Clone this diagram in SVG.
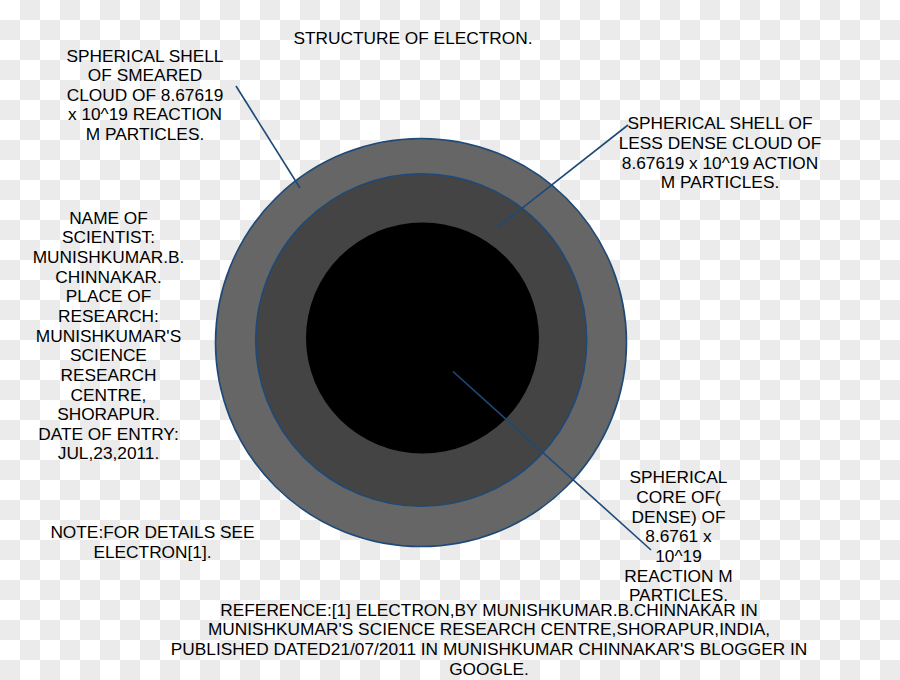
<svg xmlns="http://www.w3.org/2000/svg" width="900" height="680" viewBox="0 0 900 680">
  <defs>
    <pattern id="checker" x="0" y="0" width="40" height="40" patternUnits="userSpaceOnUse">
      <rect x="0" y="0" width="40" height="40" fill="#ffffff"/>
      <rect x="20" y="0" width="20" height="20" fill="#ebebeb"/>
      <rect x="0" y="20" width="20" height="20" fill="#ebebeb"/>
    </pattern>
  </defs>
  <style>
    text { font-family: "Liberation Sans", Arial, sans-serif; font-size: 17.3px; fill: #000000; text-anchor: middle; }
    .ring { stroke: #1d4a78; stroke-width: 1.6; }
    .conn { stroke: #1d4a78; stroke-width: 1.6; fill: none; }
  </style>

  <g id="background">
    <rect x="0" y="0" width="900" height="680" fill="url(#checker)"/>
  </g>

  <g id="electron">
    <ellipse id="outer-shell" class="ring" cx="421" cy="342.5" rx="205.5" ry="204" fill="#666666"/>
    <ellipse id="middle-shell" class="ring" cx="421.2" cy="340" rx="165.5" ry="166.3" fill="#444444"/>
    <ellipse id="core" cx="422.5" cy="338" rx="116.5" ry="115.5" fill="#000000"/>
  </g>

  <g id="connectors">
    <line class="conn" x1="236" y1="86" x2="300" y2="188"/>
    <line class="conn" x1="628" y1="125" x2="498" y2="227"/>
    <line class="conn" x1="453" y1="371.5" x2="651" y2="550"/>
  </g>

  <g id="title">
    <text x="413" y="44">STRUCTURE OF ELECTRON.</text>
  </g>

  <g id="label-outer-shell">
    <text x="145" y="61.5">SPHERICAL SHELL</text>
    <text x="145" y="81.1">OF SMEARED</text>
    <text x="145" y="100.7">CLOUD OF 8.67619</text>
    <text x="145" y="120.3">x 10^19 REACTION</text>
    <text x="145" y="139.9">M PARTICLES.</text>
  </g>

  <g id="label-middle-shell">
    <text x="720" y="129.4">SPHERICAL SHELL OF</text>
    <text x="720" y="149">LESS DENSE CLOUD OF</text>
    <text x="720" y="168.6">8.67619 x 10^19 ACTION</text>
    <text x="720" y="188.2">M PARTICLES.</text>
  </g>

  <g id="scientist-info">
    <text x="108.5" y="223.6">NAME OF</text>
    <text x="108.5" y="243.3">SCIENTIST:</text>
    <text x="108.5" y="262.9">MUNISHKUMAR.B.</text>
    <text x="108.5" y="282.6">CHINNAKAR.</text>
    <text x="108.5" y="302.2">PLACE OF</text>
    <text x="108.5" y="321.9">RESEARCH:</text>
    <text x="108.5" y="341.5">MUNISHKUMAR'S</text>
    <text x="108.5" y="361.2">SCIENCE</text>
    <text x="108.5" y="380.8">RESEARCH</text>
    <text x="108.5" y="400.5">CENTRE,</text>
    <text x="108.5" y="420.1">SHORAPUR.</text>
    <text x="108.5" y="439.8">DATE OF ENTRY:</text>
    <text x="108.5" y="459.4">JUL,23,2011.</text>
  </g>

  <g id="note">
    <text x="152.5" y="538.3">NOTE:FOR DETAILS SEE</text>
    <text x="152.5" y="557.9">ELECTRON[1].</text>
  </g>

  <g id="label-core">
    <text x="678.5" y="483.3">SPHERICAL</text>
    <text x="678.5" y="503">CORE OF(</text>
    <text x="678.5" y="522.6">DENSE) OF</text>
    <text x="678.5" y="542.3">8.6761 x</text>
    <text x="678.5" y="561.9">10^19</text>
    <text x="678.5" y="581.6">REACTION M</text>
    <text x="678.5" y="601.2">PARTICLES.</text>
  </g>

  <g id="reference">
    <text x="489" y="615.5">REFERENCE:[1] ELECTRON,BY MUNISHKUMAR.B.CHINNAKAR IN</text>
    <text x="489" y="635.2">MUNISHKUMAR'S SCIENCE RESEARCH CENTRE,SHORAPUR,INDIA,</text>
    <text x="489" y="654.9">PUBLISHED DATED21/07/2011 IN MUNISHKUMAR CHINNAKAR'S BLOGGER IN</text>
    <text x="489" y="674.6">GOOGLE.</text>
  </g>
</svg>
